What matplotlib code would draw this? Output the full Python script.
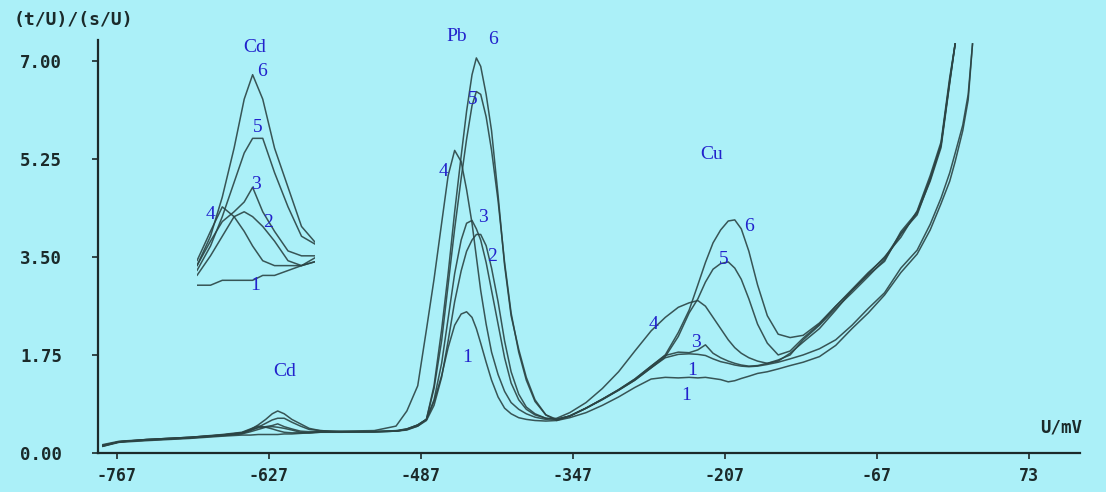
import numpy as np
import matplotlib
matplotlib.use("Agg")
import matplotlib.pyplot as plt

# ---------------- data ----------------
U = [-780, -765, -740, -700, -670, -652, -644, -637, -630, -624, -619, -613, -606, -598, -590, -580, -560,
     -530, -510, -500, -490, -482, -475, -468, -462, -456, -450, -445, -440, -436, -432, -427, -422, -416,
     -410, -404, -397, -390, -382, -372, -362, -350,
     -335, -320, -305, -290, -275, -262, -250, -240, -232, -225, -218, -211, -204, -198, -192, -185, -177,
     -168, -158, -147,
     -135, -120, -105, -90, -75, -60, -45, -30, -18, -8, 0, 5, 12, 17, 21]

nan = float("nan")

curve1 = [0.12, 0.19, 0.22, 0.26, 0.30, 0.32, 0.32, 0.33, 0.33, 0.33, 0.33, 0.34, 0.34, 0.35, 0.36, 0.37, 0.37,
          0.38, 0.39, 0.41, 0.48, 0.60, 0.92, 1.38, 1.88, 2.28, 2.48, 2.52, 2.42, 2.22, 1.96, 1.62, 1.30, 1.00,
          0.80, 0.70, 0.63, 0.60, 0.58, 0.57, 0.58, 0.63,
          0.72, 0.85, 1.00, 1.17, 1.32, 1.35, 1.34, 1.35, 1.34, 1.35, 1.33, 1.31, 1.27, 1.29, 1.33, 1.37, 1.42,
          1.45, 1.50, 1.56,
          1.62, 1.72, 1.92, 2.22, 2.50, 2.82, 3.22, 3.55, 3.98, 4.45, 4.85, 5.20, 5.75, 6.30, 7.30]

curve2 = [0.14, 0.20, 0.23, 0.27, 0.31, 0.34, 0.38, 0.42, 0.46, 0.47, 0.46, 0.44, 0.41, 0.37, 0.36, 0.38, 0.38,
          0.38, 0.39, 0.42, 0.48, 0.58, 0.85, 1.35, 2.00, 2.70, 3.25, 3.60, 3.80, 3.90, 3.90, 3.70, 3.30, 2.70,
          2.00, 1.45, 1.05, 0.82, 0.70, 0.62, 0.60, 0.66,
          0.80, 0.95, 1.12, 1.30, 1.52, 1.70, 1.76, 1.77, 1.76, 1.74, 1.68, 1.63, 1.60, 1.57, 1.55, 1.54, 1.55,
          1.58, 1.62, 1.68,
          1.75, 1.86, 2.02, 2.28, 2.58, 2.86, 3.30, 3.62, 4.08, 4.55, 5.00, 5.35, 5.85, 6.40, 7.30]

curve3 = [0.13, 0.20, 0.24, 0.28, 0.32, 0.36, 0.41, 0.45, 0.47, 0.49, 0.52, 0.47, 0.43, 0.39, 0.38, 0.38, 0.38,
          0.38, 0.39, 0.42, 0.50, 0.60, 0.95, 1.60, 2.40, 3.20, 3.80, 4.10, 4.15, 4.00, 3.80, 3.40, 2.90, 2.30,
          1.70, 1.25, 0.95, 0.78, 0.68, 0.62, 0.60, 0.66,
          0.80, 0.96, 1.13, 1.32, 1.55, 1.74, 1.80, 1.79, 1.84, 1.93, 1.78, 1.70, 1.64, 1.60, 1.57, 1.55, 1.56,
          1.60, 1.66, 1.75,
          2.02, 2.28, 2.58, 2.86, 3.15, 3.45, 3.90, 4.28, 4.85, 5.45, 6.60, 7.30, nan, nan, nan]

curve4 = [0.15, 0.21, 0.24, 0.28, 0.33, 0.37, 0.43, 0.48, 0.46, 0.43, 0.40, 0.37, 0.36, 0.36, 0.36, 0.37, 0.39,
          0.40, 0.48, 0.75, 1.20, 2.20, 3.10, 4.10, 4.95, 5.40, 5.20, 4.70, 4.10, 3.50, 2.90, 2.30, 1.80, 1.40,
          1.10, 0.90, 0.78, 0.70, 0.64, 0.60, 0.62, 0.72,
          0.90, 1.15, 1.45, 1.82, 2.18, 2.42, 2.60, 2.68, 2.72, 2.62, 2.42, 2.22, 2.02, 1.88, 1.78, 1.70, 1.64,
          1.60, 1.64, 1.78,
          1.98, 2.22, 2.55, 2.90, 3.20, 3.50, 3.85, 4.32, 4.95, 5.55, 6.70, 7.30, nan, nan, nan]

curve5 = [0.13, 0.20, 0.23, 0.27, 0.32, 0.35, 0.40, 0.46, 0.53, 0.59, 0.62, 0.62, 0.55, 0.48, 0.42, 0.40, 0.38,
          0.38, 0.39, 0.43, 0.50, 0.60, 1.15, 2.00, 3.00, 4.00, 4.90, 5.60, 6.20, 6.45, 6.40, 6.00, 5.40, 4.50,
          3.40, 2.50, 1.80, 1.30, 0.92, 0.68, 0.60, 0.66,
          0.80, 0.96, 1.12, 1.30, 1.52, 1.72, 2.08, 2.50, 2.75, 3.05, 3.28, 3.38, 3.41, 3.30, 3.10, 2.75, 2.30,
          1.96, 1.75, 1.82,
          2.05, 2.30, 2.62, 2.90, 3.18, 3.42, 3.95, 4.30, 4.90, 5.50, 6.65, 7.30, nan, nan, nan]

curve6 = [0.12, 0.20, 0.24, 0.28, 0.32, 0.36, 0.42, 0.50, 0.60, 0.70, 0.75, 0.70, 0.60, 0.52, 0.44, 0.40, 0.38,
          0.38, 0.40, 0.43, 0.50, 0.60, 1.20, 2.20, 3.20, 4.30, 5.30, 6.10, 6.75, 7.05, 6.90, 6.40, 5.75, 4.60,
          3.35, 2.45, 1.85, 1.35, 0.95, 0.68, 0.58, 0.66,
          0.80, 0.96, 1.13, 1.32, 1.55, 1.75, 2.15, 2.55, 3.00, 3.40, 3.75, 3.98, 4.14, 4.16, 4.00, 3.60, 3.00,
          2.45, 2.12, 2.06,
          2.10, 2.32, 2.62, 2.92, 3.22, 3.48, 3.92, 4.25, 4.88, 5.50, 6.62, 7.30, nan, nan, nan]

curves = [curve1, curve2, curve3, curve4, curve5, curve6]

x_ticks = [-767, -627, -487, -347, -207, -67, 73]
y_ticks = [0.0, 1.75, 3.50, 5.25, 7.00]
y_tick_labels = ["0.00", "1.75", "3.50", "5.25", "7.00"]

# curve-number labels: (text, U, value)
pb_labels = [("6", -420.7, 7.38), ("5", -439.1, 6.30), ("4", -466.7, 5.02),
             ("3", -429.9, 4.20), ("2", -421.6, 3.50), ("1", -444.6, 1.70)]
cu_labels = [("6", -184.9, 4.04), ("5", -208.0, 3.45), ("4", -273.3, 2.29),
             ("3", -233.7, 1.98), ("1", -237.4, 1.48), ("1", -243.0, 1.02)]
inset_labels = [("6", -613.4, 0.756), ("5", -615.8, 0.642), ("3", -617.0, 0.525),
                ("4", -643.7, 0.464), ("2", -609.9, 0.449), ("1", -617.6, 0.320)]
element_labels = [("Cd", -612.3, 1.45), ("Pb", -453.8, 7.43), ("Cu", -219.0, 5.32)]

# ---------------- style ----------------
BG = "#abf0f8"
LINE = "#2b4444"
AXC = "#1b2a2a"
BLUE = "#2222cc"
MONO = "DejaVu Sans Mono"
SERIF = "Liberation Serif"

fig = plt.figure(figsize=(11.06, 4.92), dpi=100, facecolor=BG)
ax = fig.add_axes([98 / 1106, (492 - 453) / 492, (1080 - 98) / 1106, (453 - 40) / 492])
ax.set_facecolor(BG)

for c in curves:
    ax.plot(U, c, color=LINE, lw=1.1, alpha=0.9)

ax.set_xlim(-784.5, 120)
ax.set_ylim(0, 7.37)
for s in ["top", "right"]:
    ax.spines[s].set_visible(False)
for s in ["left", "bottom"]:
    ax.spines[s].set_color(AXC)
    ax.spines[s].set_linewidth(1.6)

ax.set_xticks(x_ticks)
ax.set_xticklabels([str(v) for v in x_ticks], fontfamily=MONO, fontweight="bold",
                   fontsize=12, color=AXC)
ax.set_yticks(y_ticks)
ax.set_yticklabels(y_tick_labels, fontfamily=MONO, fontweight="bold", fontsize=12.5, color=AXC)
ax.tick_params(axis="y", direction="out", length=4, width=1.2, color=AXC, pad=22)
ax.tick_params(axis="x", direction="out", length=4, width=1.2, color=AXC, pad=6)

fig.text(14 / 1106, 1 - 20 / 492, "(t/U)/(s/U)", fontfamily=MONO, fontweight="bold",
         fontsize=13, color=AXC, ha="left", va="center")
fig.text(1082 / 1106, 1 - 427 / 492, "U/mV", fontfamily=MONO, fontweight="bold",
         fontsize=12.5, color=AXC, ha="right", va="center")

for t, x, y in element_labels:
    ax.text(x, y, t, color=BLUE, fontfamily=SERIF, fontsize=14, ha="center", va="center", clip_on=False)
for t, x, y in pb_labels + cu_labels:
    ax.text(x, y, t, color=BLUE, fontfamily=SERIF, fontsize=14, ha="center", va="center", clip_on=False)

# inset: magnified Cd region
axi = fig.add_axes([197 / 1106, (492 - 295) / 492, 118 / 1106, 235 / 492])
axi.set_facecolor("none")
axi.patch.set_visible(False)
for c in curves:
    axi.plot(U, c, color=LINE, lw=1.1, alpha=0.9)
axi.set_xlim(-652, -582)
axi.set_ylim(0.30, 0.78)
axi.axis("off")
axi.text(-617.6, 0.805, "Cd", color=BLUE, fontfamily=SERIF, fontsize=14, ha="center", va="center",
         clip_on=False)
for t, x, y in inset_labels:
    axi.text(x, y, t, color=BLUE, fontfamily=SERIF, fontsize=14, ha="center", va="center", clip_on=False)

fig.savefig("out.png", dpi=100, facecolor=BG)
